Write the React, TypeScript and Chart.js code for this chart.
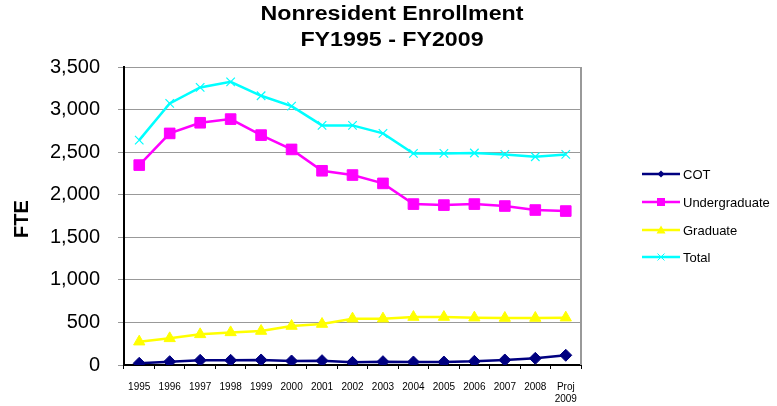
import React, { useEffect, useRef } from "react";
import { Chart, registerables } from "chart.js";

Chart.register(...registerables);

const categories: (string | string[])[] = [
  "1995", "1996", "1997", "1998", "1999", "2000", "2001", "2002",
  "2003", "2004", "2005", "2006", "2007", "2008", ["Proj", "2009"],
];
const cot = [20, 39, 55, 55, 59, 47, 51, 31, 39, 35, 35, 43, 59, 78, 114];
const undergraduate = [2348, 2720, 2845, 2888, 2700, 2532, 2281, 2231, 2133, 1890, 1878, 1890, 1867, 1820, 1808];
const graduate = [274, 313, 360, 383, 399, 458, 481, 544, 544, 563, 563, 556, 552, 552, 556];
const total = [2641, 3072, 3260, 3326, 3162, 3041, 2814, 2814, 2720, 2485, 2485, 2490, 2473, 2446, 2473];
const seriesNames = ["COT", "Undergraduate", "Graduate", "Total"];
const seriesColors = ["#000080", "#FF00FF", "#FFFF00", "#00FFFF"];
const titleLines = ["Nonresident Enrollment", "FY1995 - FY2009"];
const yTitle = "FTE";

function drawMarker(ctx: CanvasRenderingContext2D, style: string, x: number, y: number, r: number, color: string) {
  ctx.save();
  ctx.fillStyle = color;
  ctx.strokeStyle = color;
  ctx.beginPath();
  if (style === "rectRot") {
    ctx.moveTo(x, y - r); ctx.lineTo(x + r, y); ctx.lineTo(x, y + r); ctx.lineTo(x - r, y); ctx.closePath(); ctx.fill();
  } else if (style === "rect") {
    ctx.rect(x - r, y - r, 2 * r, 2 * r); ctx.fill();
  } else if (style === "triangle") {
    ctx.moveTo(x, y - r); ctx.lineTo(x + r, y + r * 0.8); ctx.lineTo(x - r, y + r * 0.8); ctx.closePath(); ctx.fill();
  } else {
    ctx.lineWidth = 1;
    ctx.moveTo(x - r, y - r); ctx.lineTo(x + r, y + r); ctx.moveTo(x + r, y - r); ctx.lineTo(x - r, y + r); ctx.stroke();
  }
  ctx.restore();
}

const decorPlugin = {
  id: "decor",
  afterDraw(chart: any) {
    const ctx: CanvasRenderingContext2D = chart.ctx;
    const a = chart.chartArea;
    ctx.save();
    ctx.strokeStyle = "#999999";
    ctx.lineWidth = 2;
    ctx.beginPath();
    ctx.moveTo(a.right, a.top);
    ctx.lineTo(a.right, a.bottom);
    ctx.stroke();
    ctx.fillStyle = "#000";
    ctx.font = "bold 20px Arial, 'Liberation Sans', sans-serif";
    ctx.textAlign = "center";
    ctx.textBaseline = "middle";
    const tys = [14, 40];
    titleLines.forEach((t, i) => {
      ctx.save();
      ctx.translate(392, tys[i]);
      ctx.scale(1.16, 1);
      ctx.fillText(t, 0, 0);
      ctx.restore();
    });
    ctx.save();
    ctx.translate(22.5, 219);
    ctx.rotate(-Math.PI / 2);
    ctx.font = "bold 20px Arial, 'Liberation Sans', sans-serif";
    ctx.fillText(yTitle, 0, 0);
    ctx.restore();
    const ly = [174, 202, 230, 257];
    const styles = ["rectRot", "rect", "triangle", "crossRot"];
    const mr = [3.5, 4, 4.5, 3.5];
    chart.data.datasets.forEach((ds: any, i: number) => {
      const y = ly[i];
      ctx.strokeStyle = ds.borderColor;
      ctx.lineWidth = 2.5;
      ctx.beginPath();
      ctx.moveTo(642, y);
      ctx.lineTo(680, y);
      ctx.stroke();
      drawMarker(ctx, styles[i], 661, y, mr[i], ds.borderColor);
      ctx.fillStyle = "#000";
      ctx.font = "13px Arial, 'Liberation Sans', sans-serif";
      ctx.textAlign = "left";
      ctx.textBaseline = "middle";
      ctx.fillText(ds.label, 683, y + 1);
    });
    ctx.restore();
  },
};

export default function App() {
  const ref = useRef<HTMLCanvasElement>(null);
  useEffect(() => {
    if (!ref.current) return;
    const mk = (i: number, data: number[], pointStyle: string, radius: number, extra: any = {}) => ({
      label: seriesNames[i],
      data,
      borderColor: seriesColors[i],
      backgroundColor: seriesColors[i],
      pointBackgroundColor: seriesColors[i],
      pointBorderColor: seriesColors[i],
      borderWidth: 2.5,
      pointStyle,
      pointRadius: radius,
      tension: 0,
      ...extra,
    });
    const chart = new Chart(ref.current, {
      type: "line",
      data: {
        labels: categories,
        datasets: [
          mk(0, cot, "rectRot", 6, { pointBorderWidth: 1 }),
          mk(1, undergraduate, "rect", 7.5, { pointBorderWidth: 1 }),
          mk(2, graduate, "triangle", 6.5, { pointBorderWidth: 1 }),
          mk(3, total, "crossRot", 6, { pointBorderWidth: 1.2 }),
        ],
      },
      options: {
        animation: false,
        responsive: false,
        maintainAspectRatio: false,
        layout: { padding: { top: 67, right: 196, left: 0, bottom: 0 } },
        plugins: {
          legend: { display: false },
          title: { display: false },
          tooltip: { enabled: false },
        },
        scales: {
          x: {
            type: "category",
            offset: true,
            grid: {
              display: true,
              offset: true,
              drawOnChartArea: false,
              drawTicks: true,
              tickLength: 4,
              color: "#000",
            },
            border: { display: true, color: "#000", width: 2 },
            ticks: {
              color: "#000",
              font: { family: "Arial, 'Liberation Sans', sans-serif", size: 10 },
              padding: 12,
              maxRotation: 0,
              autoSkip: false,
            },
            afterFit: (s: any) => { s.height = 41; },
          },
          y: {
            min: 0,
            max: 3500,
            grid: {
              color: "#999999",
              lineWidth: 1,
              drawTicks: true,
              tickLength: 6,
              tickColor: "#999999",
            },
            border: { display: true, color: "#000", width: 2 },
            ticks: {
              stepSize: 500,
              color: "#000",
              padding: 18,
              font: { family: "Arial, 'Liberation Sans', sans-serif", size: 20 },
              callback: (v: any) => Number(v).toLocaleString("en-US"),
            },
            afterFit: (s: any) => { s.width = 124; },
          },
        },
      },
      plugins: [decorPlugin],
    });
    return () => chart.destroy();
  }, []);
  return (
    <div style={{ position: "fixed", left: 0, top: 0, width: 777, height: 406, background: "#fff" }}>
      <canvas ref={ref} width={777} height={406} style={{ width: 777, height: 406 }} />
    </div>
  );
}
